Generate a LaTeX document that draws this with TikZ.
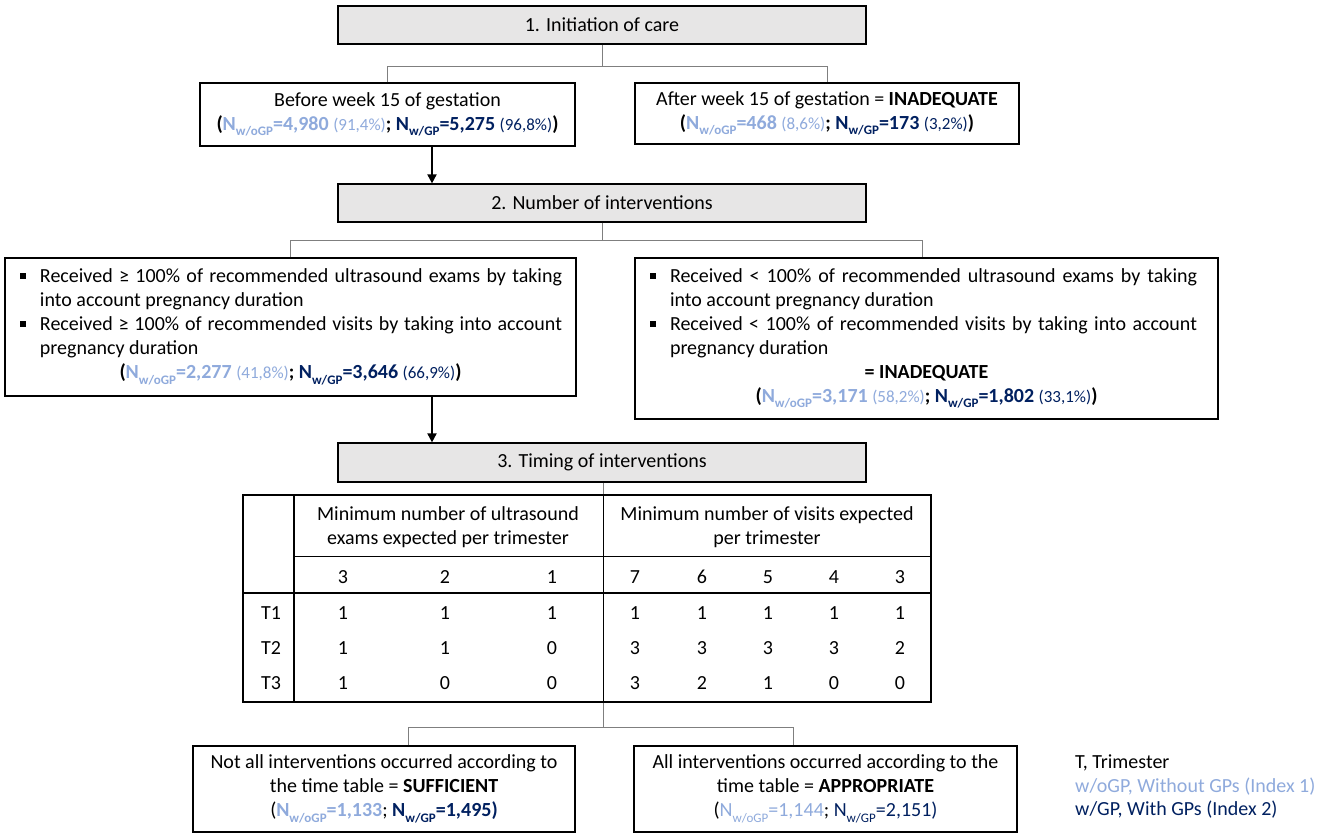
\documentclass[tikz,border=0pt]{standalone}
\usepackage{fontspec}
\setmainfont{Carlito}
\usetikzlibrary{arrows.meta}
\definecolor{lblue}{HTML}{8FAADC}
\definecolor{navy}{HTML}{002060}
\definecolor{graybg}{HTML}{E7E6E6}
\definecolor{conngray}{HTML}{7F7F7F}
\newcommand\ssb[1]{\raisebox{-0.28em}{\fontsize{13}{13}\selectfont #1}}
\newcommand\pct[1]{{\fontsize{17}{17}\selectfont #1}}
\newcommand\bsq{\rule[3.5pt]{6pt}{6pt}}
\newcommand\Nline[4]{{\bfseries (}{\color{lblue}\bfseries N\ssb{w/oGP}=#1 \pct{\mdseries (#2)}}{\bfseries ; }{\color{navy}\bfseries N\ssb{w/GP}=#3 \pct{\mdseries (#4)}}{\bfseries )}}
\newcommand\NlineB[4]{{\color{#1}(}{\color{lblue}#2N\ssb{w/oGP}=#3}{\color{#1}; }{\color{navy}#2N\ssb{w/GP}=#4)}}
\begin{document}
\begin{tikzpicture}[x=1pt,y=-1pt,
  every node/.style={font=\fontsize{20}{24}\selectfont, inner sep=0pt},
  graybox/.style={draw=black, line width=1.2pt, fill=graybg, minimum width=528pt, minimum height=38pt},
  wbox/.style={draw=black, line width=1.2pt, fill=white, align=center},
  conn/.style={draw=conngray, line width=1pt},
  arr/.style={draw=black, line width=1.8pt, -{Triangle[length=9pt,width=9pt]}},
  tline/.style={draw=black, line width=1.3pt}]
\useasboundingbox (0,0) rectangle (1325,838);

% level 1
\node[graybox] (b1) at (602,25) {1. Initiation of care};
\node[wbox, minimum width=375pt, minimum height=63pt] (b2a) at (387.5,114.5)
  {Before week 15 of gestation\\ \Nline{4,980}{91,4\%}{5,275}{96,8\%}};
\node[wbox, minimum width=384pt, minimum height=61pt] (b2b) at (827,113.5)
  {After week 15 of gestation = \textbf{INADEQUATE}\\ \Nline{468}{8,6\%}{173}{3,2\%}};

% level 2
\node[graybox] (b3) at (602,203) {2. Number of interventions};
\node[wbox, minimum width=571pt, minimum height=138pt, align=left] (b4a) at (290.5,327) {%
\hspace*{15pt}\bsq\hspace*{14pt}\makebox[522pt][s]{Received ≥ 100\% of recommended ultrasound exams by taking}\\
\hspace*{35pt}into account pregnancy duration\\
\hspace*{15pt}\bsq\hspace*{14pt}\makebox[522pt][s]{Received ≥ 100\% of recommended visits by taking into account}\\
\hspace*{35pt}pregnancy duration\\
\makebox[571pt][c]{\Nline{2,277}{41,8\%}{3,646}{66,9\%}}};
\node[wbox, minimum width=583pt, minimum height=161pt, align=left] (b4b) at (926.5,338.5) {%
\hspace*{15pt}\bsq\hspace*{14pt}\makebox[527pt][s]{Received < 100\% of recommended ultrasound exams by taking}\\
\hspace*{35pt}into account pregnancy duration\\
\hspace*{15pt}\bsq\hspace*{14pt}\makebox[527pt][s]{Received < 100\% of recommended visits by taking into account}\\
\hspace*{35pt}pregnancy duration\\
\makebox[583pt][c]{\textbf{= INADEQUATE}}\\
\makebox[583pt][c]{\Nline{3,171}{58,2\%}{1,802}{33,1\%}}};

% level 3
\node[graybox, minimum height=39pt] (b5) at (602,462.5) {3. Timing of interventions};

% table
\node[draw=black, line width=1.4pt, minimum width=688pt, minimum height=207pt] (tab) at (587,598.5) {};
\draw[tline] (294,495) -- (294,702);
\draw[tline, line width=1pt] (603,495) -- (603,702);
\draw[tline, line width=1pt] (294,556) -- (931,556);
\draw[tline, line width=2pt] (243,593) -- (931,593);
\node[align=center] (hus) at (448,527) {Minimum number of ultrasound\\exams expected per trimester};
\node[align=center] (hvis) at (767,527) {Minimum number of visits expected\\per trimester};
\foreach \x/\v [count=\i] in {343/3,445/2,552/1,635/7,702/6,768/5,834/4,900/3}
  \node (s\i) at (\x,577) {\v};
\node (t1) at (271,613) {T1};
\node (t2) at (271,648) {T2};
\node (t3) at (271,683) {T3};
\foreach \x/\v [count=\i] in {343/1,445/1,552/1,635/1,702/1,768/1,834/1,900/1}
  \node (ra\i) at (\x,613) {\v};
\foreach \x/\v [count=\i] in {343/1,445/1,552/0,635/3,702/3,768/3,834/3,900/2}
  \node (rb\i) at (\x,648) {\v};
\foreach \x/\v [count=\i] in {343/1,445/0,552/0,635/3,702/2,768/1,834/0,900/0}
  \node (rc\i) at (\x,683) {\v};

% bottom boxes
\node[wbox, minimum width=382pt, minimum height=86pt] (b6a) at (384,789)
  {Not all interventions occurred according to\\the time table = \textbf{SUFFICIENT}\\
   \NlineB{black}{\bfseries}{1,133}{1,495}};
\node[wbox, minimum width=383pt, minimum height=86pt] (b6b) at (825.5,789)
  {All interventions occurred according to the\\time table = \textbf{APPROPRIATE}\\
   \NlineB{black}{}{1,144}{2,151}};

% legend
\node[anchor=west] (lg1) at (1075,763) {T, Trimester};
\node[anchor=west, text=lblue] (lg2) at (1075,787) {w/oGP, Without GPs (Index 1)};
\node[anchor=west, text=navy] (lg3) at (1075,810) {w/GP, With GPs (Index 2)};

% connectors
\draw[conn] (b1.south) -- ++(0,22) coordinate (j1);
\draw[conn] (b2a.north) |- (j1) -| (b2b.north);
\draw[arr] (b2a.south -| 432,0) -- (b3.north -| 432,0);
\draw[conn] (b3.south) -- ++(0,18) coordinate (j2);
\draw[conn] (b4a.north) |- (j2) -| (b4b.north -| 922,0);
\draw[arr] (b4a.south -| 432,0) -- (b5.north -| 432,0);
\draw[conn] (b5.south -| 603,0) -- (tab.north -| 603,0);
\draw[conn] (tab.south -| 603,0) -- ++(0,25) coordinate (j3);
\draw[conn] (b6a.north -| 408,0) |- (j3) -| (b6b.north -| 793,0);
\end{tikzpicture}
\end{document}
